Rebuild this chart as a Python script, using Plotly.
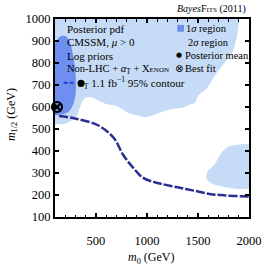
import plotly.graph_objects as go

# ---- data (m0, m1/2 in GeV) ----
sig2_main_m0 = [100, 1000, 1888, 1898, 1888, 1832, 1757, 1664, 1579, 1504, 1474, 1427, 1364, 1240, 1146,
                988, 896, 802, 709, 615, 521, 456, 409, 372, 343, 315, 259, 194, 100]
sig2_main_m12 = [1000, 1000, 1000, 978, 933, 844, 799, 742, 679, 652, 621, 612, 599, 590, 577,
                 554, 562, 577, 603, 612, 630, 644, 644, 630, 599, 559, 537, 523, 523]

sig2_side_m0 = [2000, 1926, 1895, 1801, 1739, 1661, 1598, 1582, 1614, 1708, 1863, 2000]
sig2_side_m12 = [432, 431, 428, 421, 398, 339, 309, 279, 257, 242, 228, 228]

sig1_m0 = [100, 128, 166, 212, 250, 278, 297, 306, 301, 278, 240, 184, 119, 100]
sig1_m12 = [889, 911, 924, 920, 889, 835, 777, 710, 657, 612, 581, 568, 563, 563]

contour_m0 = [140, 303, 521, 678, 765, 865, 959, 1083, 1146, 1301, 1458, 1614, 1770, 1989, 2000]
contour_m12 = [559, 547, 517, 458, 384, 324, 279, 257, 250, 235, 220, 205, 198, 193, 193]

post_mean = (355, 708)
best_fit = (120, 600)

x_ticks = [500, 1000, 1500, 2000]
y_ticks = [100, 200, 300, 400, 500, 600, 700, 800, 900, 1000]

C1 = "#6e8ff0"
C2 = "#c6dbf6"
CL = "#2c2f8f"
FONT = "Liberation Serif"

fig = go.Figure()
fig.add_trace(go.Scatter(x=sig2_main_m0, y=sig2_main_m12, mode="lines", fill="toself",
                         fillcolor=C2, line=dict(color=C2, width=0, shape="spline", smoothing=0.8),
                         hoverinfo="skip"))
fig.add_trace(go.Scatter(x=sig2_side_m0, y=sig2_side_m12, mode="lines", fill="toself",
                         fillcolor=C2, line=dict(color=C2, width=0, shape="spline", smoothing=0.8),
                         hoverinfo="skip"))
fig.add_trace(go.Scatter(x=sig1_m0, y=sig1_m12, mode="lines", fill="toself",
                         fillcolor=C1, line=dict(color=C1, width=0, shape="spline", smoothing=0.8),
                         hoverinfo="skip"))
fig.add_trace(go.Scatter(x=contour_m0, y=contour_m12, mode="lines",
                         line=dict(color=CL, width=2.5, dash="9px,2px", shape="spline"),
                         hoverinfo="skip"))
fig.add_trace(go.Scatter(x=[post_mean[0]], y=[post_mean[1]], mode="markers",
                         marker=dict(color="black", size=7), cliponaxis=False))
fig.add_trace(go.Scatter(x=[best_fit[0]], y=[best_fit[1]], mode="markers", cliponaxis=False,
                         marker=dict(symbol="circle-x-open", color="black", size=10,
                                     line=dict(width=2.2, color="black"))))

axis_common = dict(showgrid=False, zeroline=False, showline=True, linecolor="black", linewidth=2,
                   mirror="ticks", ticks="inside", tickcolor="black", ticklen=4, tickwidth=1.5,
                   tickfont=dict(family=FONT, size=12.5, color="black"))
fig.update_xaxes(range=[100, 2000], tickvals=x_ticks, ticklabelstandoff=11,
                 minor=dict(dtick=100, tick0=0, ticks="inside", ticklen=2.5, tickcolor="black", tickwidth=1),
                 **axis_common)
fig.update_yaxes(range=[100, 1000], tickvals=y_ticks, ticklabelstandoff=0, **axis_common)

def px2x(px):
    return (px - 55) / 203

def py2y(py):
    return (217 - py) / 202

ann = []
left_lines = ["Posterior pdf", "CMSSM, <i>μ</i> &gt; 0", "Log priors",
              "Non-LHC + <i>α</i><sub>T</sub> + X<span style='font-size:7px'>ENON</span>"]
left_sizes = [11, 11, 11, 10.5]
for i, t in enumerate(left_lines):
    ann.append(dict(x=px2x(65), y=py2y(25 + i * 13.7), xref="paper", yref="paper", text=t,
                    showarrow=False, xanchor="left", yanchor="middle",
                    font=dict(family=FONT, size=left_sizes[i], color="black")))
ann.append(dict(x=px2x(77), y=py2y(80.5), xref="paper", yref="paper",
                text="<i>α</i><sub>T</sub> 1.1 fb<sup>−1</sup> 95% contour",
                showarrow=False, xanchor="left", yanchor="middle",
                font=dict(family=FONT, size=11, color="black")))
right_lines = [(190, 24.5, "1<i>σ</i> region"), (192, 38.5, "2<i>σ</i> region"),
               (189, 52, "Posterior mean"), (189, 66, "Best fit")]
for px, py, t in right_lines:
    ann.append(dict(x=px2x(px), y=py2y(py), xref="paper", yref="paper", text=t,
                    showarrow=False, xanchor="left", yanchor="middle",
                    font=dict(family=FONT, size=10.5, color="black")))
ann.append(dict(x=px2x(185), y=py2y(51.5), xref="paper", yref="paper", text="●",
                showarrow=False, xanchor="center", yanchor="middle",
                font=dict(family="DejaVu Sans", size=7, color="black")))
ann.append(dict(x=px2x(185), y=py2y(66), xref="paper", yref="paper", text="⊗",
                showarrow=False, xanchor="center", yanchor="middle",
                font=dict(family="DejaVu Sans", size=10, color="black")))
# axis titles
ann.append(dict(x=px2x(156), y=py2y(259), xref="paper", yref="paper",
                text="<i>m</i><sub>0</sub> (GeV)", showarrow=False, xanchor="center", yanchor="middle",
                font=dict(family=FONT, size=12, color="black")))
ann.append(dict(x=px2x(10), y=py2y(112), xref="paper", yref="paper", textangle=-90,
                text="<i>m</i><sub>1/2</sub> (GeV)", showarrow=False, xanchor="center", yanchor="middle",
                font=dict(family=FONT, size=12, color="black")))
ann.append(dict(x=px2x(257), y=py2y(5), xref="paper", yref="paper",
                text="<i>Bayes</i>F<span style='font-size:7px'>ITS</span> (2011)",
                showarrow=False, xanchor="right", yanchor="middle",
                font=dict(family=FONT, size=10, color="black")))

shapes = [
    dict(type="rect", xref="paper", yref="paper", x0=px2x(183), x1=px2x(190), y0=py2y(28), y1=py2y(21),
         fillcolor=C1, line=dict(width=0)),
    dict(type="line", xref="paper", yref="paper", x0=px2x(64), x1=px2x(75), y0=py2y(80), y1=py2y(80),
         line=dict(color="#2a3fd8", width=2, dash="4px,2px")),
]

fig.update_layout(width=274, height=266, margin=dict(l=55, r=16, t=15, b=49),
                  paper_bgcolor="white", plot_bgcolor="white", showlegend=False,
                  annotations=ann, shapes=shapes)
fig.write_html("out.html", config={"displayModeBar": False},
               post_script="document.body.style.margin='0';document.body.style.overflow='hidden';")
